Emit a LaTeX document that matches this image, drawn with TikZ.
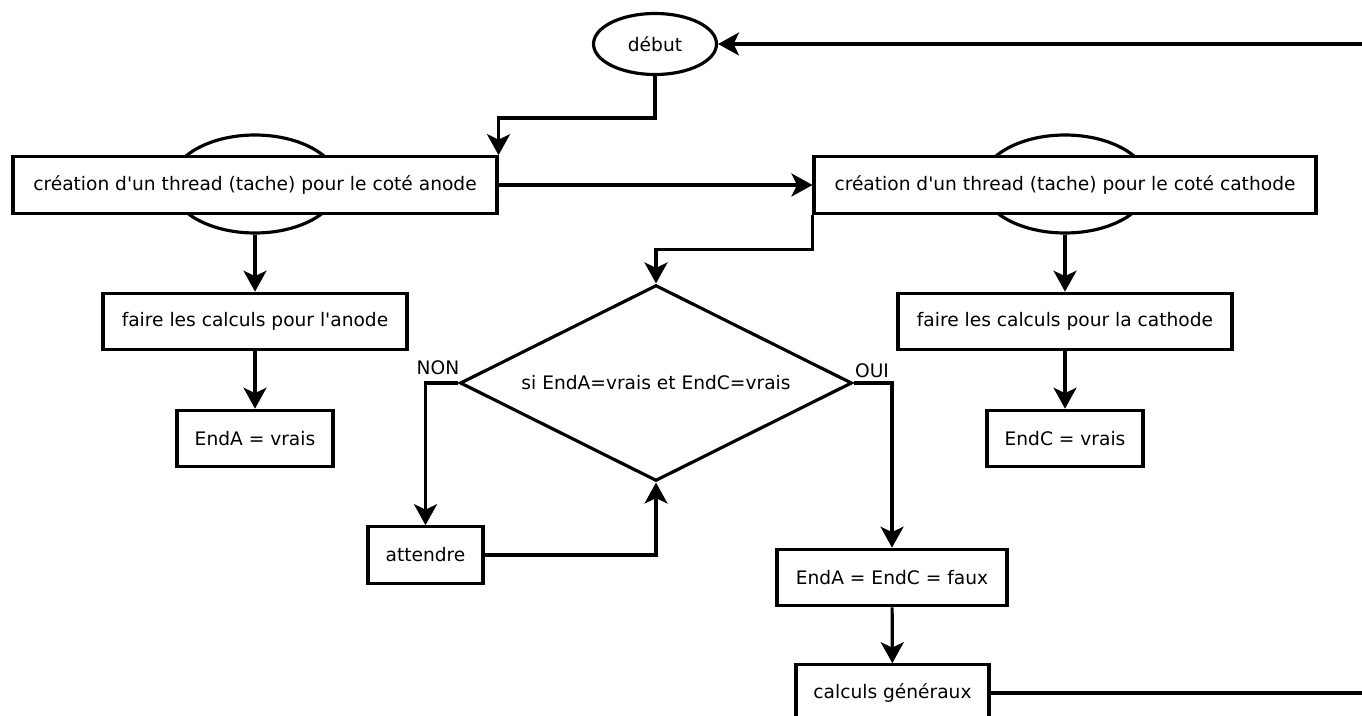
\documentclass[tikz,border=0pt]{standalone}
\usepackage{fontspec}
\setmainfont{DejaVu Sans}
\usetikzlibrary{arrows.meta,shapes.geometric}

\begin{document}
\begin{tikzpicture}[x=0.02cm, y=-0.02cm, line width=1.8pt,
    every node/.style={font=\fontsize{10.6}{12.7}\selectfont, inner sep=0pt},
    boite/.style={draw, fill=white, minimum height=1.13cm},
    bulle/.style={draw, ellipse},
    fleche/.style={-{Stealth[length=4.2mm, width=4.6mm, inset=1.1mm]}}]
    \clip (0,0) rectangle (1362,716);
    % debut et les deux threads
    \node[bulle, minimum width=2.46cm, minimum height=1.22cm] (debut) at (655,44) {début};
    \node[bulle, minimum width=3.36cm, minimum height=1.96cm] (ellA) at (255,184) {};
    \node[bulle, minimum width=3.36cm, minimum height=1.96cm] (ellC) at (1065,184) {};
    \node[boite, minimum width=9.68cm] (anode) at (255,185) {création d\textquotesingle un thread (tache) pour le coté anode};
    \node[boite, minimum width=10.04cm] (cathode) at (1065,185) {création d\textquotesingle un thread (tache) pour le coté cathode};
    % cote anode
    \node[boite, minimum width=6.08cm] (faireA) at (255,321.5) {faire les calculs pour l\textquotesingle anode};
    \node[boite, minimum width=3.12cm] (endA) at (255,438.5) {EndA = vrais};
    % cote cathode
    \node[boite, minimum width=6.68cm] (faireC) at (1065,321.5) {faire les calculs pour la cathode};
    \node[boite, minimum width=3.12cm] (endC) at (1065,438.5) {EndC = vrais};
    % synchronisation
    \node[draw, diamond, aspect=2, minimum width=7.84cm, minimum height=3.92cm] (test) at (656,383) {si EndA=vrais et EndC=vrais};
    \node[boite, minimum width=2.30cm] (attendre) at (425.5,555) {attendre};
    \node[boite, minimum width=4.60cm] (faux) at (892,577.5) {EndA = EndC = faux};
    \node[boite, minimum width=3.86cm] (calculs) at (892.5,693) {calculs généraux};
    \node (non) at (438,368) {NON};
    \node (oui) at (872,371) {OUI};

    \draw[fleche] (debut.south) -- ++(0,42) -| (anode.north east);
    \draw[fleche] (anode.east) -- (cathode.west);
    \draw[fleche] (ellA.south) -- (faireA.north);
    \draw[fleche] (faireA) -- (endA);
    \draw[fleche] (ellC.south) -- (faireC.north);
    \draw[fleche] (faireC) -- (endC);
    \draw[fleche] (cathode.south west) -- ++(0,35) -| (test.north);
    \draw[fleche] (test.west) -| (attendre.north);
    \draw[fleche] (attendre.east) -| (test.south);
    \draw[fleche] (test.east) -| (faux.north);
    \draw[fleche] (faux) -- (calculs);
    \draw[fleche] (calculs.east) -- (1400,693) |- (debut.east);
\end{tikzpicture}
\end{document}
